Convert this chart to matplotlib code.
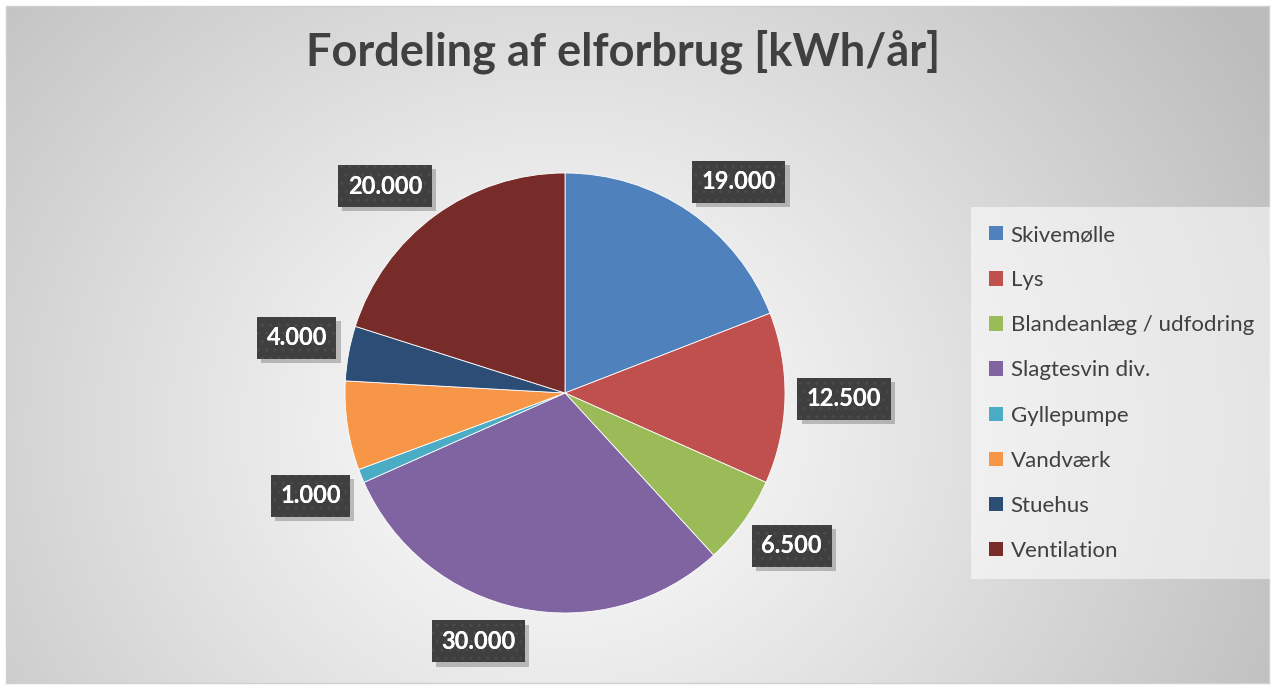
import numpy as np
import matplotlib
matplotlib.use('Agg')
import matplotlib.pyplot as plt
from matplotlib.patches import Patch
import matplotlib.patheffects as pe

# data
categories = ['Skivemølle', 'Lys', 'Blandeanlæg / udfodring', 'Slagtesvin div.',
              'Gyllepumpe', 'Vandværk', 'Stuehus', 'Ventilation']
values = [19000, 12500, 6500, 30000, 1000, 6500, 4000, 20000]
value_labels = ['19.000', '12.500', '6.500', '30.000', '1.000', None, '4.000', '20.000']
colors = ['#4F81BD', '#C0504D', '#9BBB59', '#8064A2',
          '#4BACC6', '#F79646', '#2C4D75', '#772C2A']
title = 'Fordeling af elforbrug [kWh/år]'

W, H = 1275, 689
fig = plt.figure(figsize=(W / 100, H / 100), dpi=100)
fig.patch.set_facecolor('white')

# background with radial gradient
bg = fig.add_axes([6 / W, 6 / H, (W - 12) / W, (H - 12) / H], zorder=0)
yy, xx = np.mgrid[0:H, 0:W]
d = np.sqrt(((xx - 560) / 1.0) ** 2 + ((yy - 430) / 0.9) ** 2)
t = np.clip(d / 820, 0, 1) ** 1.1
g = 1.0 - t * (1.0 - 0.74)
img = np.dstack([g, g, g])
bg.imshow(img, aspect='auto', extent=[0, 1, 0, 1], origin='upper')
bg.set_xticks([])
bg.set_yticks([])
for s in bg.spines.values():
    s.set_color('#d0d0d0')
    s.set_linewidth(1)

# pie axes (center at 565,393 px, radius 220 px)
cx, cy, R = 565, 393, 220
ax = fig.add_axes([(cx - R) / W, (H - cy - R) / H, 2 * R / W, 2 * R / H], zorder=2)
wedges, _ = ax.pie(values, colors=colors, startangle=90, counterclock=False,
                   radius=1, wedgeprops=dict(edgecolor='white', linewidth=0.6))
ax.set_xlim(-1, 1)
ax.set_ylim(-1, 1)
ax.set_aspect('auto')
ax.axis('off')

# data labels outside the slices
total = float(sum(values))
cum = np.cumsum([0] + values[:-1])
lab_font = dict(fontsize=17, fontweight='bold', family=['Lato', 'DejaVu Sans'])
for v, c0, lab in zip(values, cum, value_labels):
    if lab is None:
        continue
    th = np.deg2rad((c0 + v / 2) / total * 360)
    x, y = 1.1 * np.sin(th), 1.1 * np.cos(th)
    ha = 'left' if x > 0 else 'right'
    if abs(np.cos(th)) < 0.1:
        va = 'center'
    else:
        va = 'bottom' if y > 0 else 'top'
    # solid box with shadow
    txt = ax.text(x, y, lab, ha=ha, va=va, color='white', zorder=5,
                  bbox=dict(boxstyle='square,pad=0.4', facecolor='#3f3f3f',
                            edgecolor='none', linewidth=0), **lab_font)
    txt.get_bbox_patch().set_path_effects(
        [pe.SimplePatchShadow(offset=(3, -3), shadow_rgbFace='black', alpha=0.22),
         pe.Normal()])
    # dotted texture on top
    ax.text(x, y, lab, ha=ha, va=va, color='white', zorder=6,
            bbox=dict(boxstyle='square,pad=0.4', facecolor='none',
                      edgecolor='#4b4b4b', linewidth=0, hatch='..'), **lab_font)

# title
fig.text(623 / W, 1 - 52 / H, title, ha='center', va='center', fontsize=32.5,
         fontweight='bold', color='#404040', family=['Lato', 'DejaVu Sans'])

# legend
handles = [Patch(facecolor=c, edgecolor='none') for c in colors]
leg = fig.legend(handles, categories, loc='upper left',
                 bbox_to_anchor=(978 / W, 1 - 214 / H), frameon=True,
                 prop={'family': 'Lato', 'size': 16}, labelcolor='#404040',
                 handlelength=0.62, handleheight=0.62, handletextpad=0.35,
                 labelspacing=1.13, borderpad=0.5, borderaxespad=0)
leg.get_frame().set_facecolor('white')
leg.get_frame().set_alpha(0.55)
leg.get_frame().set_edgecolor('none')
leg.get_frame().set_boxstyle('square')
leg.set_zorder(3)

fig.savefig('out.png', dpi=100)
